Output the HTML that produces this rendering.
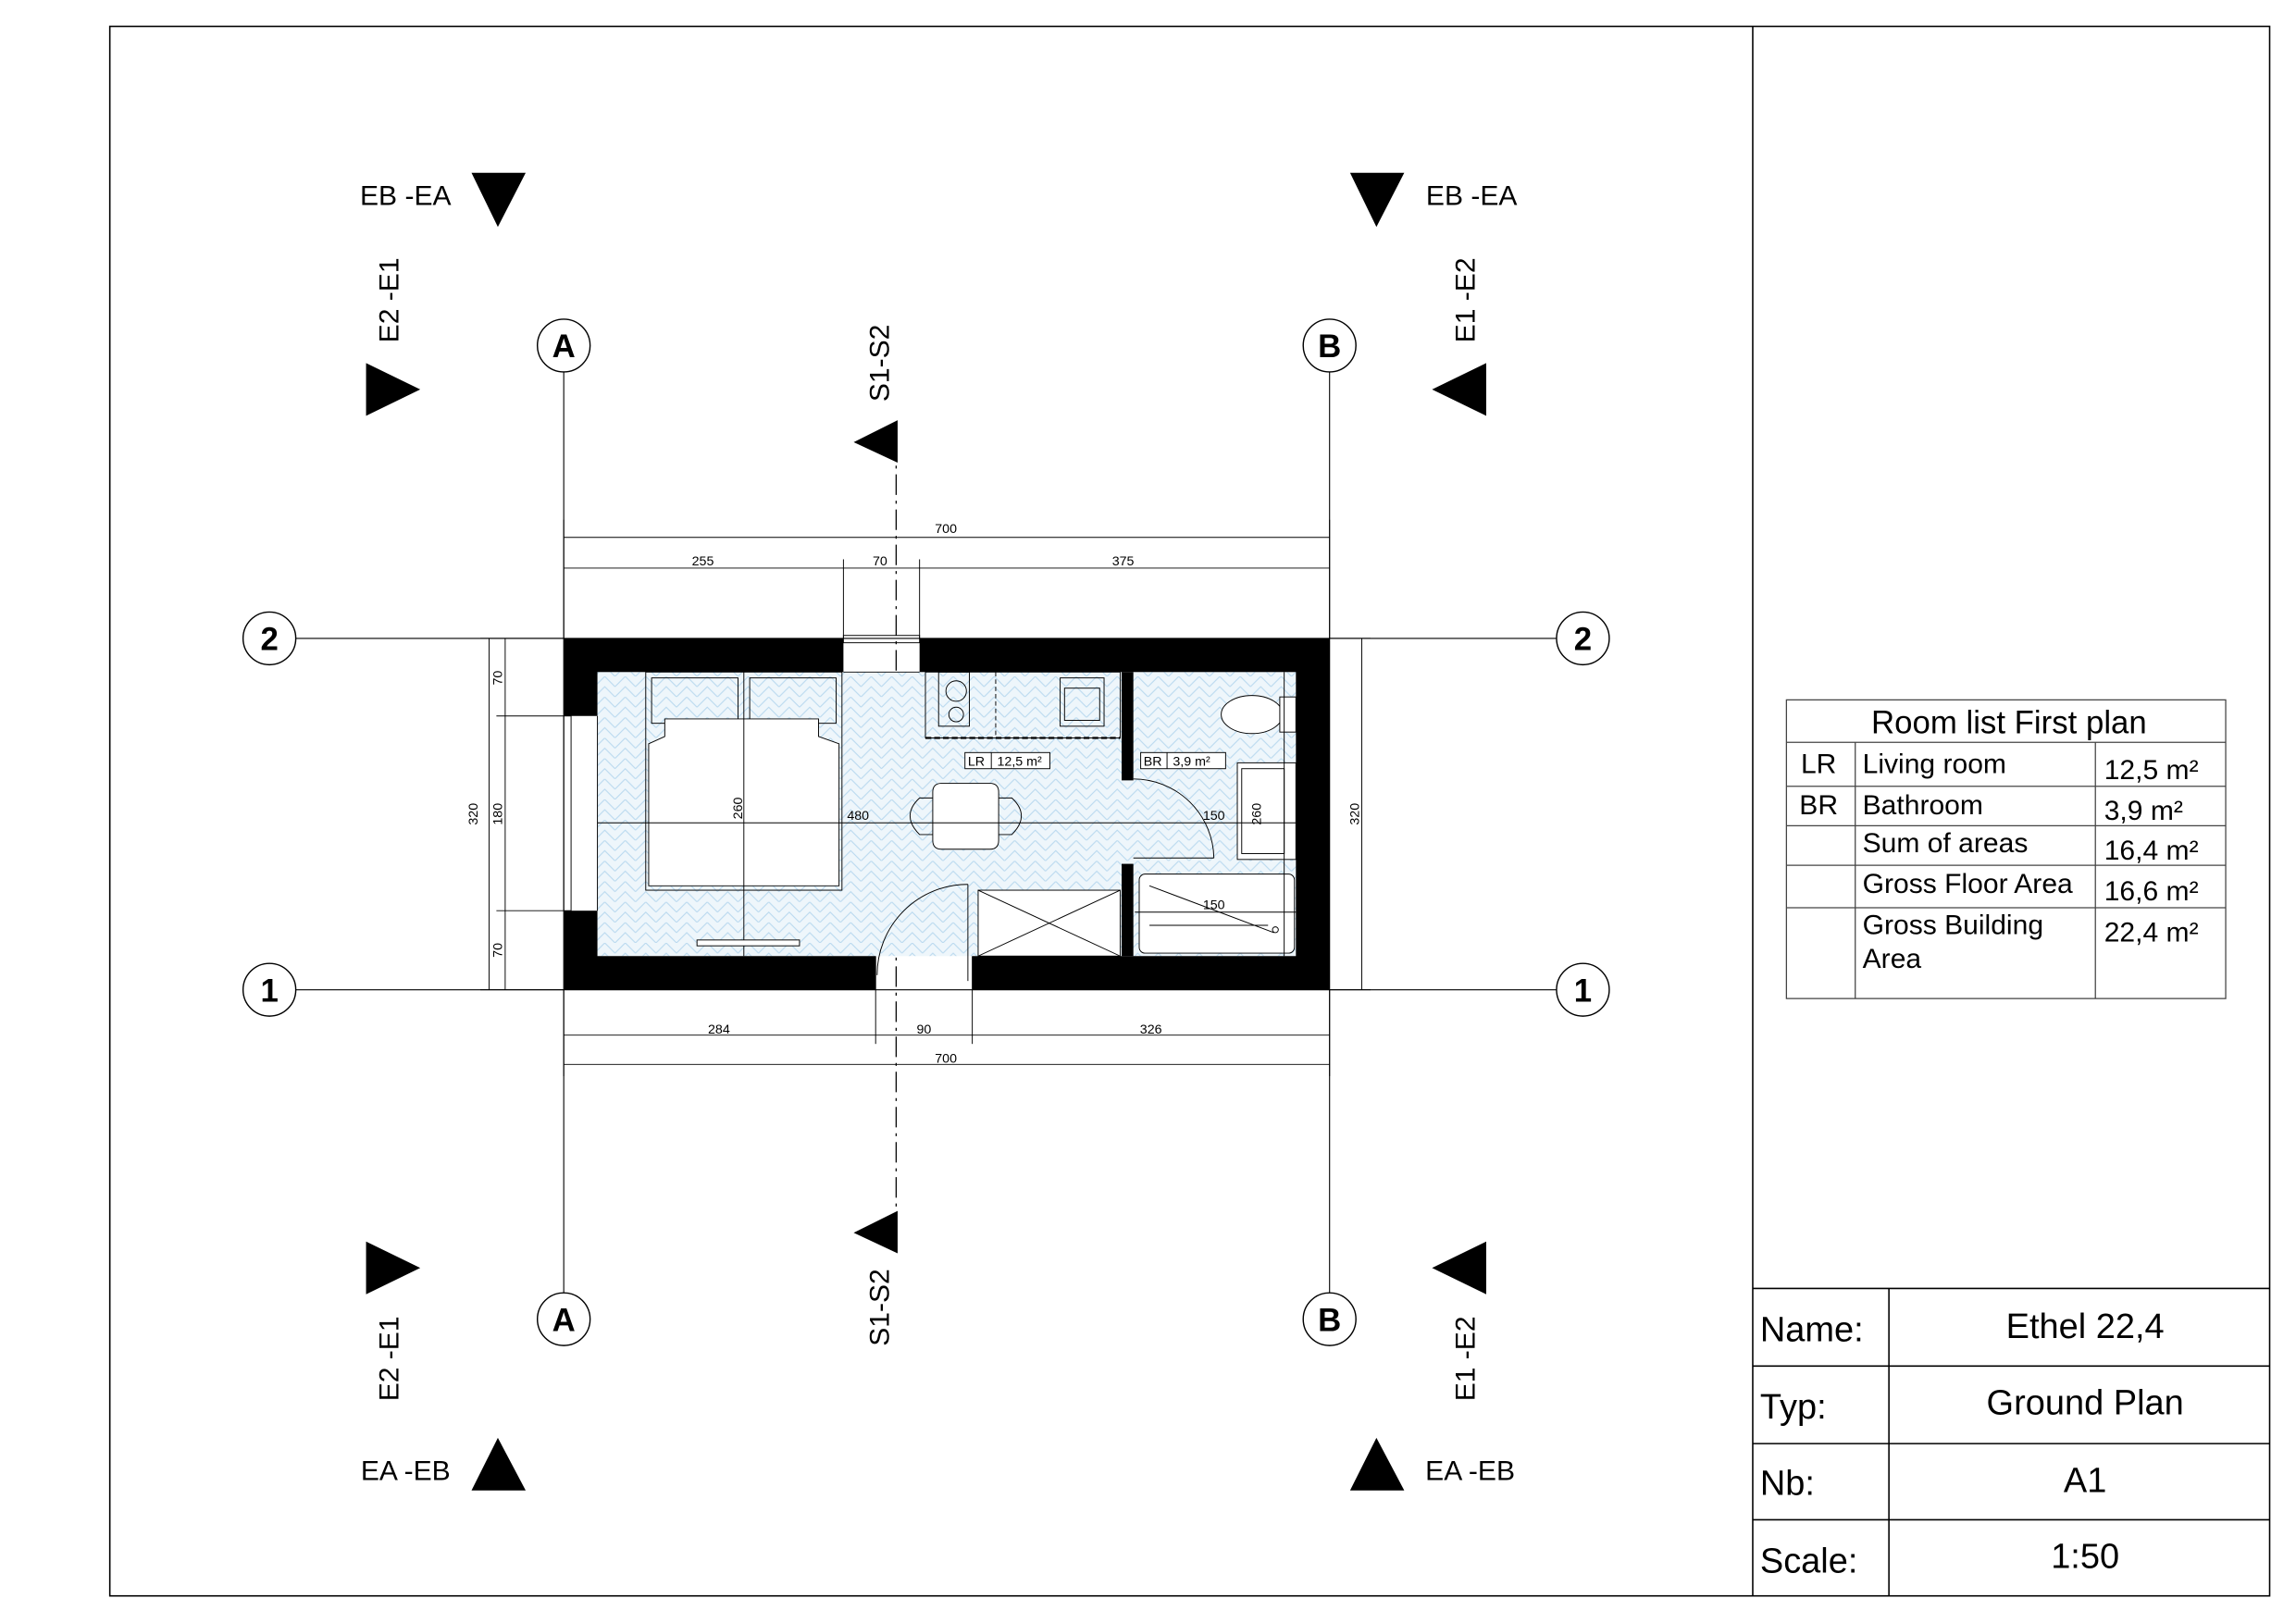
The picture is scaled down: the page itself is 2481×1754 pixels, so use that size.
<!DOCTYPE html>
<html><head><meta charset="utf-8"><style>
html,body{margin:0;padding:0;background:#fff}
svg{display:block}
text{font-family:"Liberation Sans",sans-serif;fill:#000}
</style></head><body>
<svg width="2481" height="1754" viewBox="0 0 1568 1108.5" xmlns="http://www.w3.org/2000/svg">
<defs>
<pattern id="hb" width="14" height="14" patternUnits="userSpaceOnUse">
<rect width="14" height="14" fill="#eef6fb"/>
<path d="M0 7 L7 0 L14 7 M0 14 L7 7 L14 14" fill="none" stroke="#b9d9ef" stroke-width="0.7"/>
</pattern>
</defs>
<rect width="1568" height="1108.5" fill="#fff"/>
<!-- frame -->
<rect x="75" y="18" width="1475" height="1072" fill="none" stroke="#000" stroke-width="1"/>
<line x1="1197" y1="18" x2="1197" y2="1090" stroke="#000" stroke-width="1"/>
<!-- title block -->
<g stroke="#000" stroke-width="1">
<line x1="1197" y1="880" x2="1550" y2="880"/>
<line x1="1197" y1="933" x2="1550" y2="933"/>
<line x1="1197" y1="986" x2="1550" y2="986"/>
<line x1="1197" y1="1038" x2="1550" y2="1038"/>
<line x1="1290" y1="880" x2="1290" y2="1090"/>
</g>
<g font-size="24">
<text x="1202" y="916">Name:</text>
<text x="1202" y="969">Typ:</text>
<text x="1202" y="1021">Nb:</text>
<text x="1202" y="1074">Scale:</text>
<text x="1424" y="914" text-anchor="middle">Ethel 22,4</text>
<text x="1424" y="966" text-anchor="middle">Ground Plan</text>
<text x="1424" y="1019" text-anchor="middle">A1</text>
<text x="1424" y="1071" text-anchor="middle">1:50</text>
</g>
<!-- room table -->
<g stroke="#444" stroke-width="0.8" fill="none">
<rect x="1220" y="478" width="300" height="204"/>
<line x1="1220" y1="507" x2="1520" y2="507"/>
<line x1="1220" y1="537" x2="1520" y2="537"/>
<line x1="1220" y1="564" x2="1520" y2="564"/>
<line x1="1220" y1="591" x2="1520" y2="591"/>
<line x1="1220" y1="620" x2="1520" y2="620"/>
<line x1="1267" y1="507" x2="1267" y2="682"/>
<line x1="1431" y1="507" x2="1431" y2="682"/>
</g>
<g font-size="19">
<text x="1372" y="501" text-anchor="middle" font-size="22">Room list First plan</text>
<text x="1242" y="528" text-anchor="middle">LR</text>
<text x="1242" y="556" text-anchor="middle">BR</text>
<text x="1272" y="528">Living room</text>
<text x="1272" y="556">Bathroom</text>
<text x="1272" y="582">Sum of areas</text>
<text x="1272" y="610">Gross Floor Area</text>
<text x="1272" y="638">Gross Building</text>
<text x="1272" y="661">Area</text>
<text x="1437" y="532">12,5 m²</text>
<text x="1437" y="560">3,9 m²</text>
<text x="1437" y="587">16,4 m²</text>
<text x="1437" y="615">16,6 m²</text>
<text x="1437" y="643">22,4 m²</text>
</g>
<!-- grid lines -->
<g stroke="#000" stroke-width="0.7">
<line x1="385" y1="254" x2="385" y2="883"/>
<line x1="908" y1="254" x2="908" y2="883"/>
<line x1="202" y1="436" x2="1063" y2="436"/>
<line x1="202" y1="676" x2="1063" y2="676"/>
</g>
<g fill="#fff" stroke="#000" stroke-width="0.9">
<circle cx="385" cy="236" r="18"/><circle cx="385" cy="901" r="18"/>
<circle cx="908" cy="236" r="18"/><circle cx="908" cy="901" r="18"/>
<circle cx="184" cy="436" r="18"/><circle cx="1081" cy="436" r="18"/>
<circle cx="184" cy="676" r="18"/><circle cx="1081" cy="676" r="18"/>
</g>
<g font-size="22" font-weight="bold" text-anchor="middle">
<text x="385" y="244">A</text><text x="385" y="909">A</text>
<text x="908" y="244">B</text><text x="908" y="909">B</text>
<text x="184" y="444">2</text><text x="1081" y="444">2</text>
<text x="184" y="684">1</text><text x="1081" y="684">1</text>
</g>
<!-- section line -->
<line x1="612" y1="300" x2="612" y2="845" stroke="#000" stroke-width="0.8" stroke-dasharray="14,4,2,4"/>
<polygon points="583,302 613,287 613,316" fill="#000"/>
<polygon points="583,842 613,827 613,856" fill="#000"/>
<text transform="translate(607,248) rotate(-90)" font-size="19" text-anchor="middle">S1-S2</text>
<text transform="translate(607,893) rotate(-90)" font-size="19" text-anchor="middle">S1-S2</text>
<!-- elevation markers -->
<g fill="#000">
<polygon points="322,118 359,118 340,155"/>
<polygon points="922,118 959,118 940,155"/>
<polygon points="250,248 287,266 250,284"/>
<polygon points="1015,248 978,266 1015,284"/>
<polygon points="250,848 287,866 250,884"/>
<polygon points="1015,848 978,866 1015,884"/>
<polygon points="322,1018 359,1018 340,982"/>
<polygon points="922,1018 959,1018 940,982"/>
</g>
<g font-size="19">
<text x="277" y="140" text-anchor="middle">EB -EA</text>
<text x="1005" y="140" text-anchor="middle">EB -EA</text>
<text x="277" y="1011" text-anchor="middle">EA -EB</text>
<text x="1004" y="1011" text-anchor="middle">EA -EB</text>
<text transform="translate(272,205) rotate(-90)" text-anchor="middle">E2 -E1</text>
<text transform="translate(1007,205) rotate(-90)" text-anchor="middle">E1 -E2</text>
<text transform="translate(272,928) rotate(-90)" text-anchor="middle">E2 -E1</text>
<text transform="translate(1007,928) rotate(-90)" text-anchor="middle">E1 -E2</text>
</g>
<!-- dimensions -->
<g stroke="#000" stroke-width="0.6">
<line x1="385" y1="367" x2="908" y2="367"/>
<line x1="385" y1="388" x2="908" y2="388"/>
<line x1="385" y1="355" x2="385" y2="436"/>
<line x1="908" y1="355" x2="908" y2="436"/>
<line x1="576" y1="382" x2="576" y2="436"/>
<line x1="628" y1="382" x2="628" y2="436"/>
<line x1="385" y1="707" x2="908" y2="707"/>
<line x1="385" y1="727" x2="908" y2="727"/>
<line x1="385" y1="676" x2="385" y2="735"/>
<line x1="908" y1="676" x2="908" y2="735"/>
<line x1="598" y1="653" x2="598" y2="713"/>
<line x1="664" y1="653" x2="664" y2="713"/>
<line x1="334" y1="436" x2="334" y2="676"/>
<line x1="345" y1="436" x2="345" y2="676"/>
<line x1="328" y1="436" x2="385" y2="436"/>
<line x1="328" y1="676" x2="385" y2="676"/>
<line x1="339" y1="489" x2="385" y2="489"/>
<line x1="339" y1="622" x2="385" y2="622"/>
<line x1="930" y1="436" x2="930" y2="676"/>
<line x1="908" y1="436" x2="936" y2="436"/>
<line x1="908" y1="676" x2="936" y2="676"/>
</g>
<g font-size="9" text-anchor="middle">
<text x="646" y="364">700</text>
<text x="480" y="386">255</text>
<text x="601" y="386">70</text>
<text x="767" y="386">375</text>
<text x="491" y="706">284</text>
<text x="631" y="706">90</text>
<text x="786" y="706">326</text>
<text x="646" y="726">700</text>
<text transform="translate(326,556) rotate(-90)">320</text>
<text transform="translate(343,463) rotate(-90)">70</text>
<text transform="translate(343,556) rotate(-90)">180</text>
<text transform="translate(343,649) rotate(-90)">70</text>
<text transform="translate(928,556) rotate(-90)">320</text>
</g>
<!-- floor -->
<rect x="408" y="459" width="477" height="194" fill="url(#hb)"/>
<!-- walls -->
<g fill="#000">
<rect x="385" y="436" width="191" height="23"/>
<rect x="628" y="436" width="280" height="23"/>
<rect x="385" y="436" width="23" height="53"/>
<rect x="385" y="622" width="23" height="54"/>
<rect x="885" y="436" width="23" height="240"/>
<rect x="385" y="653" width="213" height="23"/>
<rect x="664" y="653" width="244" height="23"/>
<rect x="766" y="459" width="8" height="74"/>
<rect x="766" y="590" width="8" height="63"/>
</g>
<g stroke="#000" stroke-width="0.6" fill="none">
<!-- top window -->
<rect x="576" y="434" width="52" height="5"/>
<line x1="576" y1="459" x2="628" y2="459"/>
<!-- left window -->
<rect x="385" y="489" width="5" height="133"/>
<line x1="408" y1="489" x2="408" y2="622"/>
<!-- entrance door -->
<line x1="661" y1="604" x2="661" y2="670"/>
<path d="M661,604 A62,62 0 0 0 599,666"/>
<!-- bathroom door -->
<line x1="774" y1="586" x2="829" y2="586"/>
<path d="M774,532 A55,55 0 0 1 829,586"/>
<!-- kitchen -->
<rect x="632" y="459" width="133" height="45"/>
<line x1="632" y1="504" x2="765" y2="504" stroke-dasharray="4,2" stroke-width="1.4"/>
<rect x="641" y="459" width="21" height="37"/>
<circle cx="653" cy="472" r="7"/><circle cx="653" cy="488" r="5"/>
<line x1="680" y1="459" x2="680" y2="504" stroke-dasharray="3,2"/>
<rect x="724" y="463" width="30" height="33"/>
<rect x="727" y="470" width="24" height="22"/>
<!-- bed -->
<rect x="441" y="459" width="134" height="149"/>
<rect x="445" y="463" width="59" height="31"/>
<rect x="512" y="463" width="59" height="31"/>
<path d="M454,491 L559,491 L559,503 L573,508 L573,605 L443,605 L443,508 L454,503 Z" fill="#fff"/>
<line x1="508" y1="459" x2="508" y2="653"/>
<!-- table + chairs -->
<path d="M637,541 Q637,535 643,535 L676,535 Q682,535 682,541 L682,574 Q682,580 676,580 L643,580 Q637,580 637,574 Z" fill="#fff"/>
<path d="M637,545 L628,545 Q615,557 628,570 L637,570"/>
<path d="M682,545 L691,545 Q704,557 691,570 L682,570"/>
<!-- wardrobe -->
<rect x="668" y="608" width="97" height="45" fill="#fff"/>
<line x1="668" y1="608" x2="765" y2="653"/><line x1="765" y1="608" x2="668" y2="653"/>
<!-- desk -->
<rect x="476" y="642" width="70" height="4" fill="#fff"/>
<!-- bathroom -->
<ellipse cx="855" cy="488" rx="21" ry="13" fill="#fff"/>
<rect x="874" y="476" width="11" height="24" fill="#fff"/>
<rect x="845" y="521" width="40" height="66" fill="#fff"/>
<rect x="848" y="525" width="29" height="58"/>
<rect x="778" y="597" width="106" height="54" rx="4" fill="#fff"/>
<line x1="785" y1="605" x2="870" y2="637"/>
<line x1="785" y1="632" x2="866" y2="632"/>
<circle cx="871" cy="635" r="2"/>
<!-- inner dims -->
<line x1="408" y1="562" x2="885" y2="562"/>
<line x1="775" y1="623" x2="885" y2="623"/>
<line x1="877" y1="459" x2="877" y2="653"/>
<!-- labels -->
<rect x="659" y="514" width="58" height="11" fill="#fff"/>
<line x1="677" y1="514" x2="677" y2="525"/>
<rect x="779" y="514" width="58" height="11" fill="#fff"/>
<line x1="797" y1="514" x2="797" y2="525"/>
</g>
<g font-size="9">
<text x="661" y="523">LR</text><text x="681" y="523">12,5 m²</text>
<text x="781" y="523">BR</text><text x="801" y="523">3,9 m²</text>
<text x="586" y="560" text-anchor="middle">480</text>
<text x="829" y="560" text-anchor="middle">150</text>
<text x="829" y="621" text-anchor="middle">150</text>
<text transform="translate(507,552) rotate(-90)" text-anchor="middle">260</text>
<text transform="translate(861,556) rotate(-90)" text-anchor="middle">260</text>
</g>
</svg>
</body></html>
